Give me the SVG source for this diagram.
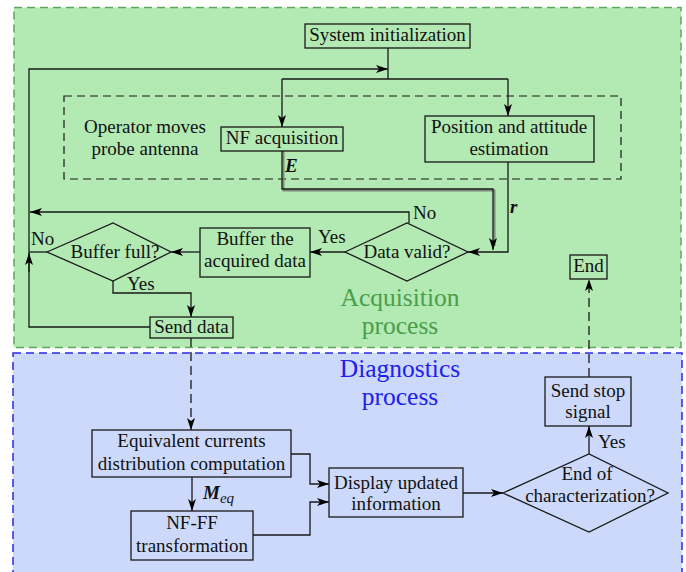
<svg xmlns="http://www.w3.org/2000/svg" width="686" height="572" viewBox="0 0 686 572">
<defs>
<marker id="ah" markerUnits="userSpaceOnUse" markerWidth="13" markerHeight="9" refX="12" refY="4" orient="auto">
<path d="M0,0 L12,4 L0,8 L3,4 z" fill="#000"/>
</marker>
<style>
text{font-size:19px;fill:#111;text-anchor:middle}
.box{fill:none;stroke:#1a1a1a;stroke-width:1.3}
.c{fill:none;stroke:#1a1a1a;stroke-width:1.3}
.ca{fill:none;stroke:#1a1a1a;stroke-width:1.3;marker-end:url(#ah)}
.dash{stroke-dasharray:9 5}
.big{font-size:25.5px}
.lbl{text-anchor:start}
</style>
</defs>
<rect x="0" y="0" width="686" height="572" fill="#fff"/>
<g id="acquisition-region">
<rect x="14" y="7.5" width="667" height="340" fill="#b3e9b3" stroke="#5ea85e" stroke-width="1.5" stroke-dasharray="8 5"/>
<text class="big" x="400" y="306" font-family="Liberation Serif" style="fill:#4a9e4a">Acquisition</text>
<text class="big" x="400" y="334" font-family="Liberation Serif" style="fill:#4a9e4a">process</text>
</g>
<g id="diagnostics-region">
<rect x="13" y="353" width="669" height="230" fill="#ccd9fa" stroke="#2a2ae6" stroke-width="1.5" stroke-dasharray="8 5"/>
<text class="big" x="400" y="377" font-family="Liberation Serif" style="fill:#2020ee">Diagnostics</text>
<text class="big" x="400" y="405" font-family="Liberation Serif" style="fill:#2020ee">process</text>
</g>
<g id="probe-group">
<rect x="64" y="96" width="557" height="83" fill="none" stroke="#1a1a1a" stroke-width="1.2" stroke-dasharray="8 5"/>
<text x="145" y="133" font-family="Liberation Serif">Operator moves</text>
<text x="145" y="155" font-family="Liberation Serif">probe antenna</text>
</g>
<g id="connectors">
<path class="c" d="M388,48 V79"/>
<path class="c" d="M282,79 H508"/>
<path class="ca" d="M282,79 V127"/>
<path class="ca" d="M508,79 V116"/>
<path class="ca" d="M150,327 H29 V69 H388"/>
<path class="ca" d="M29,272 V253"/>
<path class="c" d="M47,252 H29"/>
<path class="ca" d="M409,223 V212 H30"/>
<path fill="none" stroke="#7d8a7d" stroke-width="2" d="M283.5,151 V190.5 H494.5 V246"/>
<path class="ca" d="M282,151 V189 H493 V250"/>
<path class="ca" d="M508,162 V252 H468"/>
<path class="ca" d="M345,252 H310"/>
<path class="ca" d="M200,252 H171"/>
<path class="ca" d="M113,281 V293 H191 V317"/>
<path class="ca dash" d="M191,338 V430"/>
<path class="ca" d="M291,454 H310 V484 H329"/>
<path class="ca" d="M253,535 H310 V502 H329"/>
<path class="ca" d="M192,477 V511"/>
<path class="ca" d="M463,493 H503"/>
<path class="ca" d="M589,454 V426"/>
<path class="ca dash" d="M589,377 V279"/>
<text class="lbl" x="285" y="172" font-family="Liberation Serif" font-weight="bold" font-style="italic">E</text>
<text class="lbl" x="510" y="213" font-family="Liberation Serif" font-weight="bold" font-style="italic">r</text>
<text class="lbl" x="413" y="219" font-family="Liberation Serif">No</text>
<text class="lbl" x="318" y="243" font-family="Liberation Serif">Yes</text>
<text class="lbl" x="31" y="245" font-family="Liberation Serif">No</text>
<text class="lbl" x="127" y="290" font-family="Liberation Serif">Yes</text>
<text class="lbl" x="598" y="448" font-family="Liberation Serif">Yes</text>
<text class="lbl" x="203" y="499" font-family="Liberation Serif" font-weight="bold" font-style="italic" font-size="22">M<tspan font-weight="normal" font-size="15" dy="4">eq</tspan></text>
</g>
<g id="system-initialization">
<rect class="box" x="305" y="24" width="165" height="24"/>
<text x="387.5" y="41" font-family="Liberation Serif">System initialization</text>
</g>
<g id="nf-acquisition">
<rect class="box" x="221" y="127" width="122" height="24"/>
<text x="282" y="144" font-family="Liberation Serif">NF acquisition</text>
</g>
<g id="position-estimation">
<rect class="box" x="425" y="116" width="169" height="46"/>
<text x="509" y="133" font-family="Liberation Serif">Position and attitude</text>
<text x="509" y="155" font-family="Liberation Serif">estimation</text>
</g>
<g id="data-valid">
<polygon class="box" points="345,252 407,223 468,252 407,281"/>
<text x="407" y="258" font-family="Liberation Serif">Data valid?</text>
</g>
<g id="buffer-data">
<rect class="box" x="200" y="228" width="110" height="49"/>
<text x="255" y="245" font-family="Liberation Serif">Buffer the</text>
<text x="255" y="267" font-family="Liberation Serif">acquired data</text>
</g>
<g id="buffer-full">
<polygon class="box" points="47,252 113,223 171,252 113,281"/>
<text x="115" y="258" font-family="Liberation Serif">Buffer full?</text>
</g>
<g id="send-data">
<rect class="box" x="150" y="317" width="83" height="21"/>
<text x="191.5" y="333" font-family="Liberation Serif">Send data</text>
</g>
<g id="end">
<rect class="box" x="570" y="255" width="37" height="24"/>
<text x="588.5" y="272" font-family="Liberation Serif">End</text>
</g>
<g id="send-stop">
<rect class="box" x="545" y="377" width="86" height="49"/>
<text x="588" y="397" font-family="Liberation Serif">Send stop</text>
<text x="588" y="418" font-family="Liberation Serif">signal</text>
</g>
<g id="end-of-characterization">
<polygon class="box" points="503,493 589,454 668,493 589,532"/>
<text x="587" y="480" font-family="Liberation Serif">End of</text>
<text x="590" y="502" font-family="Liberation Serif">characterization?</text>
</g>
<g id="display-info">
<rect class="box" x="329" y="468" width="134" height="49"/>
<text x="396" y="489" font-family="Liberation Serif">Display updated</text>
<text x="396" y="510" font-family="Liberation Serif">information</text>
</g>
<g id="equivalent-currents">
<rect class="box" x="92" y="430" width="199" height="47"/>
<text x="191.5" y="447" font-family="Liberation Serif">Equivalent currents</text>
<text x="191.5" y="470" font-family="Liberation Serif">distribution computation</text>
</g>
<g id="nf-ff">
<rect class="box" x="131" y="511" width="122" height="49"/>
<text x="192" y="529" font-family="Liberation Serif">NF-FF</text>
<text x="192" y="552" font-family="Liberation Serif">transformation</text>
</g>
</svg>
